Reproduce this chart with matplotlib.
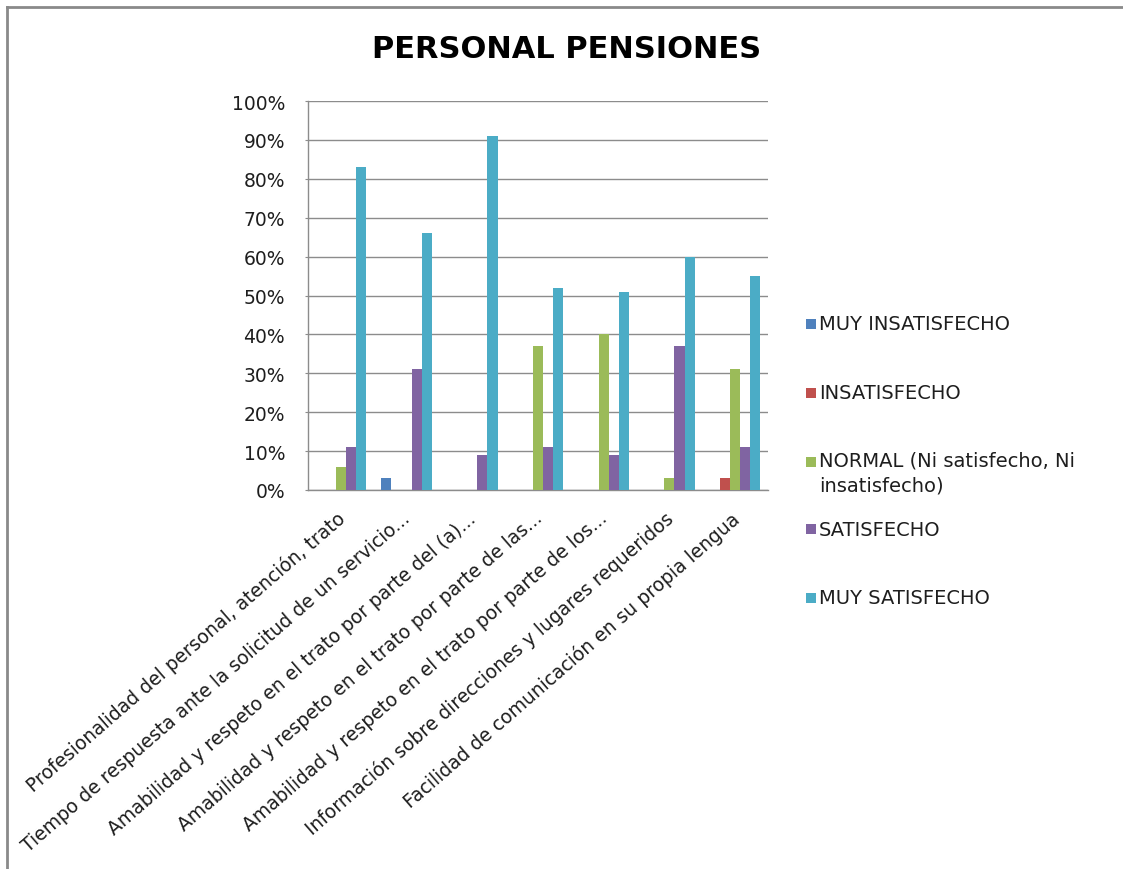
import matplotlib
matplotlib.use("Agg")
import matplotlib.pyplot as plt
from matplotlib.patches import Rectangle
from matplotlib.lines import Line2D
from matplotlib.transforms import ScaledTranslation
import numpy as np

plt.rcParams['font.family'] = ['DejaVu Sans']

categories = [
    "Profesionalidad del personal, atención, trato",
    "Tiempo de respuesta ante la solicitud de un servicio...",
    "Amabilidad y respeto en el trato por parte del (a)...",
    "Amabilidad y respeto en el trato por parte de las...",
    "Amabilidad y respeto en el trato por parte de los...",
    "Información sobre direcciones y lugares requeridos",
    "Facilidad de comunicación en su propia lengua",
]
series_names = [
    "MUY INSATISFECHO",
    "INSATISFECHO",
    "NORMAL (Ni satisfecho, Ni\ninsatisfecho)",
    "SATISFECHO",
    "MUY SATISFECHO",
]
muy_insatisfecho = [0, 3, 0, 0, 0, 0, 0]
insatisfecho = [0, 0, 0, 0, 0, 0, 3]
normal = [6, 0, 0, 37, 40, 3, 31]
satisfecho = [11, 31, 9, 11, 9, 37, 11]
muy_satisfecho = [83, 66, 91, 52, 51, 60, 55]
yticks = [0, 10, 20, 30, 40, 50, 60, 70, 80, 90, 100]
ytick_labels = ["0%", "10%", "20%", "30%", "40%", "50%", "60%", "70%", "80%", "90%", "100%"]

colors = ["#4F81BD", "#C0504D", "#9BBB59", "#8064A2", "#4BACC6"]
series = [muy_insatisfecho, insatisfecho, normal, satisfecho, muy_satisfecho]

W, H = 1123, 870
fig = plt.figure(figsize=(W / 100, H / 100), dpi=100)
ax = fig.add_axes([308 / W, 1 - 491 / H, (768 - 308) / W, (491 - 102) / H])

n = len(series)
bw = 1 / (n + 1.5)
x = np.arange(len(categories))
for i, (vals, c) in enumerate(zip(series, colors)):
    ax.bar(x + (i - (n - 1) / 2) * bw, vals, width=bw, color=c, zorder=3, linewidth=0)

txt_c = "#1e1e1e"
grid_c = "#8c8c8c"
fs = 13.5
ax.set_xlim(-0.5, len(categories) - 0.5)
ax.set_ylim(0, 100)
ax.set_yticks(yticks)
ax.set_yticklabels(ytick_labels, fontsize=fs, color=txt_c)
ax.yaxis.grid(True, color=grid_c, linewidth=1.0, zorder=0)
ax.tick_params(axis='y', length=2.5, color=grid_c, pad=14)
ax.tick_params(axis='x', length=0, pad=13)
ax.set_xticks(x)
ax.set_xticklabels(categories, rotation=41, ha='right', rotation_mode='anchor',
                   fontsize=fs, color=txt_c)
shift = ScaledTranslation(-5 / 100, 0, fig.dpi_scale_trans)
for lab in ax.get_xticklabels():
    lab.set_transform(lab.get_transform() + shift)
for s in ["top", "right"]:
    ax.spines[s].set_visible(False)
for s in ["left", "bottom"]:
    ax.spines[s].set_color(grid_c)
    ax.spines[s].set_linewidth(1.0)

fig.text(567 / W, 1 - 50 / H, "PERSONAL PENSIONES", fontsize=22, fontweight='bold',
         ha='center', va='center', color='black')

# legend (manual, Excel-style: marker aligned with first text line)
lfs = 14
leg_y = [325, 394, 463, 530, 599]
for name, c, yy in zip(series_names, colors, leg_y):
    fig.patches.append(Rectangle((806 / W, 1 - (yy + 5) / H), 10 / W, 10 / H,
                                 transform=fig.transFigure, facecolor=c, edgecolor='none'))
    if '\n' in name:
        fig.text(819 / W, 1 - (yy - 11) / H, name, fontsize=lfs, ha='left', va='top',
                 color=txt_c, linespacing=1.4)
    else:
        fig.text(819 / W, 1 - yy / H, name, fontsize=lfs, ha='left', va='center', color=txt_c)

# chart border (top and left)
fig.add_artist(Line2D([7 / W, 1], [1 - 8 / H, 1 - 8 / H], transform=fig.transFigure,
                      color="#8a8a8a", linewidth=2))
fig.add_artist(Line2D([7 / W, 7 / W], [1 - 8 / H, 0], transform=fig.transFigure,
                      color="#8a8a8a", linewidth=2))

fig.savefig("out.png", dpi=100)
